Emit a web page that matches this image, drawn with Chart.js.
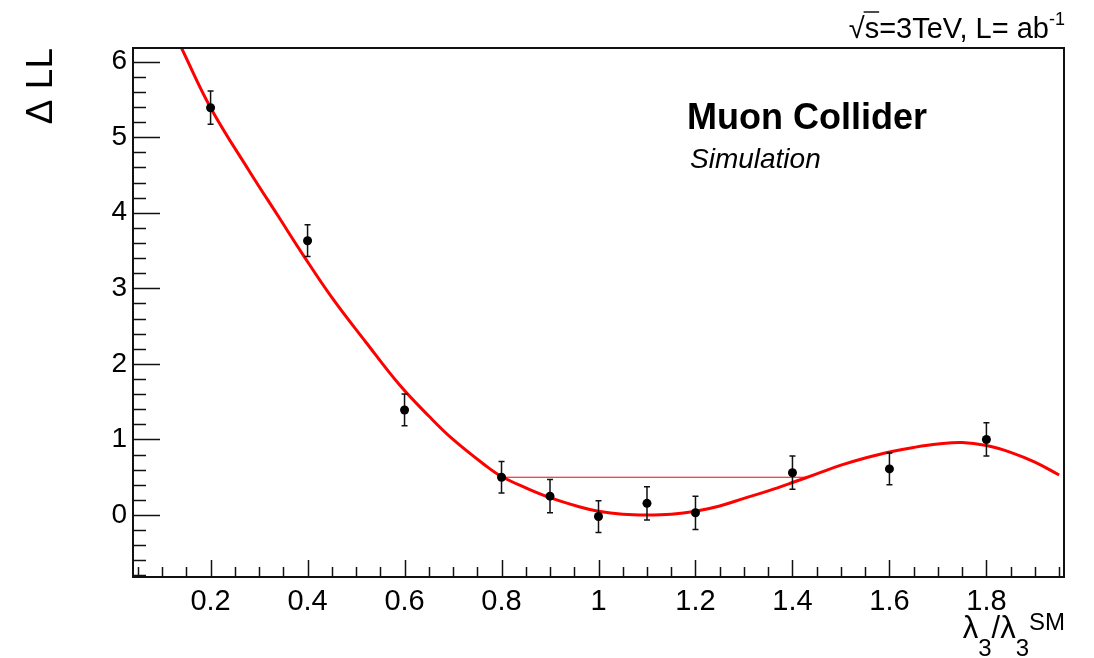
<!DOCTYPE html>
<html>
<head>
<meta charset="utf-8">
<script src="https://cdn.jsdelivr.net/npm/chart.js@4.4.1/dist/chart.umd.min.js"></script>
<style>
  html, body { margin: 0; padding: 0; background: #fff; }
  canvas { display: block; }
</style>
</head>
<body>
<canvas id="chart" width="1094" height="658"></canvas>
<script>
// simulated points (lambda3 / lambda3_SM, delta LL) with errors
const pointX = [0.2, 0.4, 0.6, 0.8, 0.9, 1.0, 1.1, 1.2, 1.4, 1.6, 1.8];
const pointY = [5.39, 3.63, 1.39, 0.50, 0.25, -0.02, 0.155, 0.03, 0.56, 0.61, 1.0];
const pointErr = [0.22, 0.21, 0.21, 0.21, 0.22, 0.21, 0.22, 0.22, 0.22, 0.21, 0.22];

// fitted curve
const curveX = [0.14, 0.2, 0.28, 0.34, 0.39, 0.45, 0.52, 0.59, 0.65, 0.7, 0.77, 0.8, 0.85, 0.9, 0.96,
  1.0, 1.05, 1.1, 1.15, 1.2, 1.25, 1.3, 1.35, 1.4, 1.45, 1.5, 1.55, 1.6, 1.65, 1.7, 1.75, 1.8, 1.85, 1.9, 1.95];
const curveY = [6.18, 5.39, 4.55, 3.95, 3.45, 2.88, 2.29, 1.72, 1.31, 1.00, 0.64, 0.51, 0.36, 0.23, 0.11,
  0.05, 0.01, 0.0, 0.01, 0.05, 0.12, 0.22, 0.32, 0.43, 0.545, 0.66, 0.755, 0.835, 0.895, 0.94, 0.96, 0.92, 0.83, 0.70, 0.53];

// delta LL = 0.5 interval
const intervalX = [0.804, 1.433];
const intervalY = [0.5, 0.5];

// axes
const xRange = [0.04, 1.96];
const yRange = [-0.82, 6.18];
const xTicks = [0.2, 0.4, 0.6, 0.8, 1.0, 1.2, 1.4, 1.6, 1.8];
const xTickLabels = ['0.2', '0.4', '0.6', '0.8', '1', '1.2', '1.4', '1.6', '1.8'];
const yTicks = [0, 1, 2, 3, 4, 5, 6];
const yTickLabels = ['0', '1', '2', '3', '4', '5', '6'];

const FONT = '"Liberation Sans", Arial, Helvetica, sans-serif';

const zip = (xs, ys) => xs.map((x, i) => ({ x: x, y: ys[i] }));

// ROOT look: frame, inward ticks, error bars, labels
const rootStyle = {
  id: 'rootStyle',
  beforeDatasetDraw(chart, args) {
    if (args.index !== 2) return;
    const ctx = chart.ctx;
    const xs = chart.scales.x, ys = chart.scales.y;
    ctx.save();
    ctx.strokeStyle = '#111';
    ctx.lineWidth = 1.5;
    pointX.forEach((x, i) => {
      const px = xs.getPixelForValue(x);
      const top = ys.getPixelForValue(pointY[i] + pointErr[i]);
      const bot = ys.getPixelForValue(pointY[i] - pointErr[i]);
      ctx.beginPath();
      ctx.moveTo(px, top); ctx.lineTo(px, bot);
      ctx.moveTo(px - 3, top); ctx.lineTo(px + 3, top);
      ctx.moveTo(px - 3, bot); ctx.lineTo(px + 3, bot);
      ctx.stroke();
    });
    ctx.restore();
  },
  afterDraw(chart) {
    const ctx = chart.ctx;
    const a = chart.chartArea;
    const xs = chart.scales.x, ys = chart.scales.y;
    ctx.save();

    // ticks (major + minor, pointing inward)
    ctx.strokeStyle = '#111';
    ctx.lineWidth = 1.5;
    ctx.beginPath();
    for (let i = 1; i < 40; i++) {
      const v = i * 0.05;
      if (v < xRange[0] || v > xRange[1]) continue;
      const px = Math.round(xs.getPixelForValue(v)) + 0.5;
      const len = i % 4 === 0 ? 17 : 10;
      ctx.moveTo(px, a.bottom); ctx.lineTo(px, a.bottom - len);
    }
    for (let i = -4; i <= 31; i++) {
      const v = i * 0.2;
      if (v < yRange[0] || v > yRange[1]) continue;
      const py = Math.round(ys.getPixelForValue(v)) + 0.5;
      const len = i % 5 === 0 ? 27 : 13;
      ctx.moveTo(a.left, py); ctx.lineTo(a.left + len, py);
    }
    ctx.stroke();

    // frame
    ctx.strokeStyle = '#111';
    ctx.lineWidth = 2;
    ctx.strokeRect(a.left, a.top, a.right - a.left, a.bottom - a.top);

    ctx.fillStyle = '#000';
    ctx.textBaseline = 'alphabetic';
    ctx.textAlign = 'left';

    // header: sqrt(s)=3TeV, L= ab^-1
    const main = '29px ' + FONT, small = '18px ' + FONT;
    ctx.font = main;
    const head = '\u221As=3TeV, L= ab';
    const wHead = ctx.measureText(head).width;
    ctx.font = small;
    const wSup = ctx.measureText('-1').width;
    const hx = a.right + 1 - wHead - wSup;
    ctx.font = main;
    ctx.fillText(head, hx, 38);
    const wRoot = ctx.measureText('\u221A').width;
    const wS = ctx.measureText('s').width;
    ctx.lineWidth = 1.5;
    ctx.beginPath();
    ctx.moveTo(hx + wRoot - 1, 12); ctx.lineTo(hx + wRoot + wS, 12);
    ctx.stroke();
    ctx.font = small;
    ctx.fillText('-1', hx + wHead, 25);

    // experiment labels
    ctx.font = 'bold 36px ' + FONT;
    ctx.fillText('Muon Collider', 687, 129);
    ctx.font = 'italic 28px ' + FONT;
    ctx.fillText('Simulation', 690, 168);

    // x axis title: lambda_3 / lambda_3^SM
    const big = '31px ' + FONT, sub = '24px ' + FONT;
    const parts = [
      ['\u03BB', big, 638], ['3', sub, 656], ['/', big, 638],
      ['\u03BB', big, 638], ['3', sub, 656], ['SM', sub, 630]
    ];
    let total = 0;
    parts.forEach(p => { ctx.font = p[1]; total += ctx.measureText(p[0]).width; });
    let tx = a.right + 1 - total;
    parts.forEach(p => {
      ctx.font = p[1];
      ctx.fillText(p[0], tx, p[2]);
      tx += ctx.measureText(p[0]).width;
    });

    ctx.restore();
  }
};

new Chart(document.getElementById('chart'), {
  type: 'scatter',
  data: {
    datasets: [
      {
        data: zip(curveX, curveY),
        showLine: true,
        borderColor: '#ff0000',
        borderWidth: 3,
        pointRadius: 0,
        tension: 0.4,
        order: 2
      },
      {
        data: zip(intervalX, intervalY),
        showLine: true,
        borderColor: '#ff0000',
        borderWidth: 1,
        pointRadius: 0,
        order: 1
      },
      {
        data: zip(pointX, pointY),
        pointRadius: 4.5,
        pointBackgroundColor: '#000',
        pointBorderColor: '#000',
        pointBorderWidth: 0,
        order: 0
      }
    ]
  },
  options: {
    responsive: false,
    animation: false,
    devicePixelRatio: 1,
    layout: { padding: { top: 48, right: 30, left: 0, bottom: 0 } },
    plugins: { legend: { display: false }, tooltip: { enabled: false } },
    scales: {
      x: {
        type: 'linear',
        min: xRange[0],
        max: xRange[1],
        grid: { display: false },
        border: { display: false },
        afterBuildTicks(scale) { scale.ticks = xTicks.map(v => ({ value: v })); },
        ticks: {
          padding: 0,
          color: '#000',
          font: { family: FONT, size: 29 },
          callback: (v, i) => xTickLabels[i]
        },
        afterFit(scale) { scale.height = 81; }
      },
      y: {
        type: 'linear',
        min: yRange[0],
        max: yRange[1],
        grid: { display: false },
        border: { display: false },
        afterBuildTicks(scale) { scale.ticks = yTicks.map(v => ({ value: v })); },
        ticks: {
          padding: -2,
          color: '#000',
          font: { family: FONT, size: 28 },
          callback: (v, i) => yTickLabels[i]
        },
        title: {
          display: true,
          text: '\u0394 LL',
          align: 'end',
          color: '#000',
          font: { family: FONT, size: 37 },
          padding: { top: 20, bottom: 0 }
        },
        afterFit(scale) { scale.width = 133; }
      }
    }
  },
  plugins: [rootStyle]
});
</script>
</body>
</html>
